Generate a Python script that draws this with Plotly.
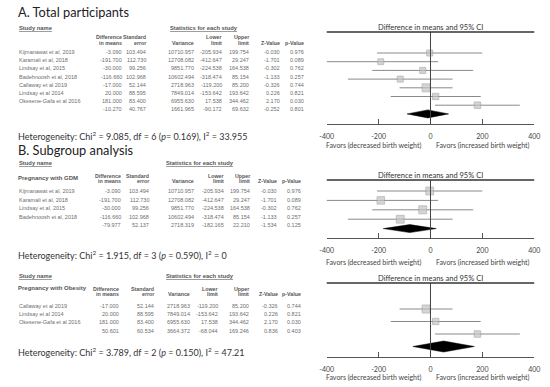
import plotly.graph_objects as go

W, H = 550, 387

# ---------------- data ----------------
studies_all = ["Kijmanawat et al, 2019", "Karamali et al, 2018", "Lindsay et al, 2015",
               "Badehnoosh et al, 2018", "Callaway et al 2019", "Lindsay et al 2014",
               "Okesene-Gafa et al 2016"]
diff_all = [-3.090, -191.700, -30.000, -116.660, -17.000, 20.000, 181.000]
se_all = [103.494, 112.730, 99.256, 102.968, 52.144, 88.595, 83.400]
var_all = [10710.957, 12708.082, 9851.770, 10602.494, 2718.963, 7849.014, 6955.630]
lower_all = [-205.934, -412.647, -224.538, -318.474, -119.200, -153.642, 17.538]
upper_all = [199.754, 29.247, 164.538, 85.154, 85.200, 193.642, 344.462]
z_all = [-0.030, -1.701, -0.302, -1.133, -0.326, 0.226, 2.170]
p_all = [0.976, 0.089, 0.762, 0.257, 0.744, 0.821, 0.030]
summary_all = [-10.270, 40.767, 1661.965, -90.172, 69.632, -0.252, 0.801]

studies_gdm = ["Kijmanawat et al, 2019", "Karamali et al, 2018", "Lindsay et al, 2015",
               "Badehnoosh et al, 2018"]
diff_gdm = [-3.090, -191.700, -30.000, -116.660]
se_gdm = [103.494, 112.730, 99.256, 102.968]
var_gdm = [10710.957, 12708.082, 9851.770, 10602.494]
lower_gdm = [-205.934, -412.647, -224.538, -318.474]
upper_gdm = [199.754, 29.247, 164.538, 85.154]
z_gdm = [-0.030, -1.701, -0.302, -1.133]
p_gdm = [0.976, 0.089, 0.762, 0.257]
summary_gdm = [-79.977, 52.137, 2718.319, -182.165, 22.210, -1.534, 0.125]

studies_ob = ["Callaway et al 2019", "Lindsay et al 2014", "Okesene-Gafa et al 2016"]
diff_ob = [-17.000, 20.000, 181.000]
se_ob = [52.144, 88.595, 83.400]
var_ob = [2718.963, 7849.014, 6955.630]
lower_ob = [-119.200, -153.642, 17.538]
upper_ob = [85.200, 193.642, 344.462]
z_ob = [-0.326, 0.226, 2.170]
p_ob = [0.744, 0.821, 0.030]
summary_ob = [50.601, 60.534, 3664.372, -68.044, 169.246, 0.836, 0.403]

tick_vals = [-400, -200, 0, 200, 400]
tick_text = ["-400", "-200", "0", "200", "400"]

# ---------------- helpers ----------------
def px(x):
    return x / W

def py(y):
    return 1 - y / H

TXT = "#6e6e6e"
HDR = "#555555"
ARIAL = "Liberation Sans"
CAL = "Lato"

annotations = []
shapes = []

def ann(x, y, text, size=5.5, anchor="left", color=TXT, family=ARIAL):
    annotations.append(dict(x=px(x), y=py(y), xref="paper", yref="paper", text=text,
                            showarrow=False, xanchor=anchor, yanchor="middle",
                            font=dict(size=size, color=color, family=family)))

fig = go.Figure()

# ---------------- tables ----------------
def table(top, sub, hdr_y, col_hdr_y, row0, dy, cols, names, cols_data, summary, stat_cx):
    ann(10, top, "<b><u>Study name</u></b>", 5.8, color=HDR)
    ann(stat_cx, top, "<b><u>Statistics for each study</u></b>", 5.8, "center", HDR)
    if sub:
        ann(9, hdr_y, "<b>" + sub + "</b>", 6, color=HDR)
    y1, y2 = col_hdr_y
    two = [("Difference", "in means"), ("Standard", "error"), None,
           ("Lower", "limit"), ("Upper", "limit"), None, None]
    single = {2: "Variance", 5: "Z-Value", 6: "p-Value"}
    for i, xr in enumerate(cols):
        if two[i]:
            ann(xr, y1, "<b>" + two[i][0] + "</b>", 5.3, "right", HDR)
            ann(xr, y2, "<b>" + two[i][1] + "</b>", 5.3, "right", HDR)
        else:
            ann(xr, y2, "<b>" + single[i] + "</b>", 5.3, "right", HDR)
    for r, name in enumerate(names):
        y = row0 + r * dy
        ann(10, y, name, 5.5)
        for c, xr in enumerate(cols):
            ann(xr, y, "{:.3f}".format(cols_data[c][r]), 5.5, "right")
    y = row0 + len(names) * dy
    for c, xr in enumerate(cols):
        ann(xr, y, "{:.3f}".format(summary[c]), 5.5, "right")

table(28, None, None, (37.5, 43), 52.3, 8.1, [120, 144, 193.5, 222.5, 250, 282, 306],
      studies_all, [diff_all, se_all, var_all, lower_all, upper_all, z_all, p_all],
      summary_all, 202)
table(163.3, "Pregnancy with GDM", 177.5, (176, 181.5), 191, 8.5,
      [118.5, 147.5, 193.5, 224, 251, 279, 303],
      studies_gdm, [diff_gdm, se_gdm, var_gdm, lower_gdm, upper_gdm, z_gdm, p_gdm],
      summary_gdm, 198)
table(276, "Pregnancy with Obesity", 288.3, (288.5, 294), 305.7, 8.3,
      [117, 152.5, 189, 218.5, 250, 280, 303],
      studies_ob, [diff_ob, se_ob, var_ob, lower_ob, upper_ob, z_ob, p_ob],
      summary_ob, 198)

# titles / heterogeneity
ann(9, 12.5, "A. Total participants", 12.8, color="#222222", family=CAL)
ann(9, 150, "B. Subgroup analysis", 12.8, color="#222222", family=CAL)
ann(9, 135.5, "Heterogeneity: Chi<sup>2</sup> = 9.085, df = 6 (<i>p</i>= 0.169), I<sup>2</sup> = 33.955",
    9, color="#333333", family=CAL)
ann(9, 255, "Heterogeneity: Chi<sup>2</sup> = 1.915, df = 3 (<i>p</i> = 0.590), I<sup>2</sup> = 0",
    9, color="#333333", family=CAL)
ann(9, 352, "Heterogeneity: Chi<sup>2</sup> = 3.789, df = 2 (<i>p</i> = 0.150), I<sup>2</sup> = 47.21",
    9, color="#333333", family=CAL)

# ---------------- forest panels ----------------
X0, X1 = 327.5, 540
panels = [
    # (diff, lower, upper, var, summary, header_px, axis_px, row0_px, dy_px, header_text_px, favors_px, diamond_half)
    (diff_all, lower_all, upper_all, var_all, summary_all, 32, 124, 53, 8.7, 27.5, 145.5, 4.0),
    (diff_gdm, lower_gdm, upper_gdm, var_gdm, summary_gdm, 180, 238, 191, 9.4, 175, 262, 4.0),
    (diff_ob, lower_ob, upper_ob, var_ob, summary_ob, 283, 357, 309, 12.5, 278, 377.5, 5.5),
]

layout_axes = {}
for k, (d, lo, up, var, summ, hp, ap, r0, dy, htp, fav, dh) in enumerate(panels, start=1):
    xa = "x" if k == 1 else f"x{k}"
    ya = "y" if k == 1 else f"y{k}"
    n = len(d)
    rows = list(range(n))
    wmax = max(1 / v for v in var)
    sizes = [4 + 4 * ((1 / v) / wmax) ** 0.5 for v in var]
    for i in rows:
        fig.add_trace(go.Scatter(x=[lo[i], up[i]], y=[i, i], mode="lines",
                                 line=dict(color="#8a8a8a", width=1),
                                 xaxis=xa, yaxis=ya, showlegend=False, hoverinfo="skip"))
    fig.add_trace(go.Scatter(x=d, y=rows, mode="markers",
                             marker=dict(symbol="square", size=sizes, color="#c4c4c4",
                                         line=dict(color="#9a9a9a", width=0.8)),
                             xaxis=xa, yaxis=ya, showlegend=False))
    est, lo_s, up_s = summ[0], summ[3], summ[4]
    h = dh / dy
    fig.add_trace(go.Scatter(x=[lo_s, est, up_s, est, lo_s], y=[n, n - h, n, n + h, n],
                             mode="lines", fill="toself", fillcolor="#000000",
                             line=dict(color="#000000", width=0.5),
                             xaxis=xa, yaxis=ya, showlegend=False))
    top_row = (hp - r0) / dy
    bot_row = (ap - r0) / dy
    sfx = "" if k == 1 else str(k)
    layout_axes[f"xaxis{sfx}"] = dict(domain=[px(X0), px(X1)], range=[-400, 400],
                                     anchor=ya, showgrid=False, zeroline=False,
                                     showline=True, linecolor="#555555", linewidth=1,
                                     ticks="inside", ticklen=5, tickcolor="#555555",
                                     tickvals=tick_vals, ticktext=tick_text,
                                     ticklabelstandoff=6,
                                     tickfont=dict(size=7, color="#444444", family=CAL))
    layout_axes[f"yaxis{sfx}"] = dict(domain=[py(ap), py(hp)], range=[bot_row, top_row],
                                     anchor=xa, visible=False, showgrid=False, zeroline=False)
    shapes.append(dict(type="line", xref=xa, yref=ya, x0=0, x1=0,
                       y0=top_row, y1=bot_row + 4 / dy,
                       line=dict(color="#444444", width=1)))
    shapes.append(dict(type="line", xref="paper", yref="paper", x0=px(X0), x1=px(X1),
                       y0=py(hp), y1=py(hp), line=dict(color="#333333", width=1.5)))
    ann((X0 + X1) / 2, htp, "Difference in means and 95% CI", 7.5, "center", "#333333", CAL)
    ann(375, fav, "Favors (decreased birth weight)", 7, "center", "#444444", CAL)
    ann(488, fav, "Favors (increased birth weight)", 7, "center", "#444444", CAL)

fig.update_layout(width=W, height=H, margin=dict(l=0, r=0, t=0, b=0),
                  paper_bgcolor="white", plot_bgcolor="white",
                  annotations=annotations, shapes=shapes, showlegend=False,
                  **layout_axes)

fig.write_html("out.html", config={"displayModeBar": False},
               post_script="document.body.style.margin='0';document.body.style.padding='0';"
                           "document.documentElement.style.overflow='hidden';")
